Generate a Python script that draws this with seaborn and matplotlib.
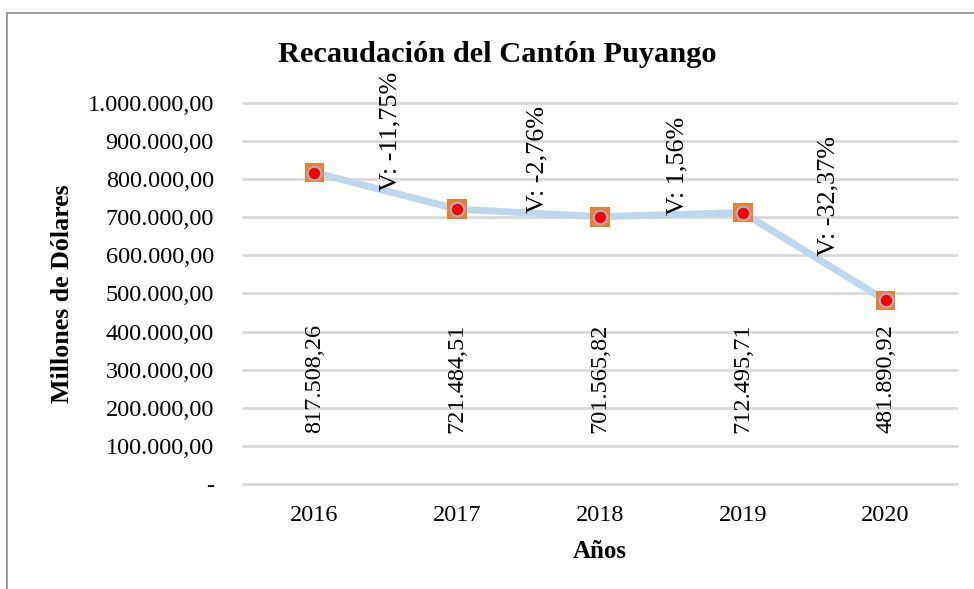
import pandas as pd
import matplotlib.pyplot as plt
import seaborn as sns
from matplotlib.patches import Rectangle

years = [2016, 2017, 2018, 2019, 2020]
recaudacion = [817508.26, 721484.51, 701565.82, 712495.71, 481890.92]
value_labels = ["817.508,26", "721.484,51", "701.565,82", "712.495,71", "481.890,92"]
variation_labels = ["V: -11,75%", "V: -2,76%", "V: 1,56%", "V: -32,37%"]
y_ticks = [0, 100000, 200000, 300000, 400000, 500000, 600000, 700000, 800000, 900000, 1000000]
y_tick_labels = ["-", "100.000,00", "200.000,00", "300.000,00", "400.000,00", "500.000,00",
                 "600.000,00", "700.000,00", "800.000,00", "900.000,00", "1.000.000,00"]

df = pd.DataFrame({"anio": years, "valor": recaudacion})

sns.set_style("white")
plt.rcParams["font.family"] = ["Liberation Serif", "DejaVu Serif"]
plt.rcParams["text.color"] = "black"
plt.rcParams["axes.labelcolor"] = "black"

fig = plt.figure(figsize=(9.74, 5.89), dpi=100)
ax = fig.add_axes([0.2495, 0.1783, 0.733, 0.6468])

# line + markers
sns.lineplot(data=df, x="anio", y="valor", color="#BDD7EE", linewidth=5, ax=ax, zorder=2)
sns.scatterplot(data=df, x="anio", y="valor", marker="s", s=200, color="#ED7D31",
                edgecolor="none", ax=ax, zorder=3)
sns.scatterplot(data=df, x="anio", y="valor", marker="o", s=95, color="#FF0000",
                edgecolor="#A6B4C8", linewidth=1.5, ax=ax, zorder=4)

ax.set_xlim(2015.5, 2020.5)
ax.set_ylim(0, 1000000)
ax.set_yticks(y_ticks)
ax.set_yticklabels(y_tick_labels)
ax.set_xticks(years)
ax.set_xticklabels([str(y) for y in years])
ax.tick_params(axis="both", length=0, labelsize=17.5, colors="black")
ax.tick_params(axis="y", pad=21)
ax.tick_params(axis="x", pad=15)
ax.grid(axis="y", color="#D9D9D9", linewidth=2)
for gl in ax.get_ygridlines():
    gl.set_clip_on(False)
ax.set_axisbelow(True)
for s in ax.spines.values():
    s.set_visible(False)

# value labels
for yr, lab in zip(years, value_labels):
    ax.text(yr, 278000, lab, rotation=90, ha="center", va="center", fontsize=17.5)

# variation labels, sitting on the segment midpoints
nudge = [0.53, 0.56, 0.54, 0.60]
for i, lab in enumerate(variation_labels):
    mid = (recaudacion[i] + recaudacion[i + 1]) / 2
    ax.text(years[i] + nudge[i], mid, lab, rotation=90, ha="center", va="bottom", fontsize=18.8)

ax.set_xlabel("Años", fontsize=18, fontweight="bold", labelpad=10)
ax.set_ylabel("Millones de Dólares", fontsize=18.6, fontweight="bold", labelpad=10)

fig.text(0.511, 0.908, "Recaudación del Cantón Puyango", ha="center", va="center",
         fontsize=21.9, fontweight="bold")

# chart frame (left and top edges visible)
fig.patches.append(Rectangle((7 / 974, -0.1), 1.2, 1.1 - 13 / 589, transform=fig.transFigure,
                             fill=False, edgecolor="#8C8C8C", linewidth=1.2))

fig.savefig("out.png", dpi=100)
